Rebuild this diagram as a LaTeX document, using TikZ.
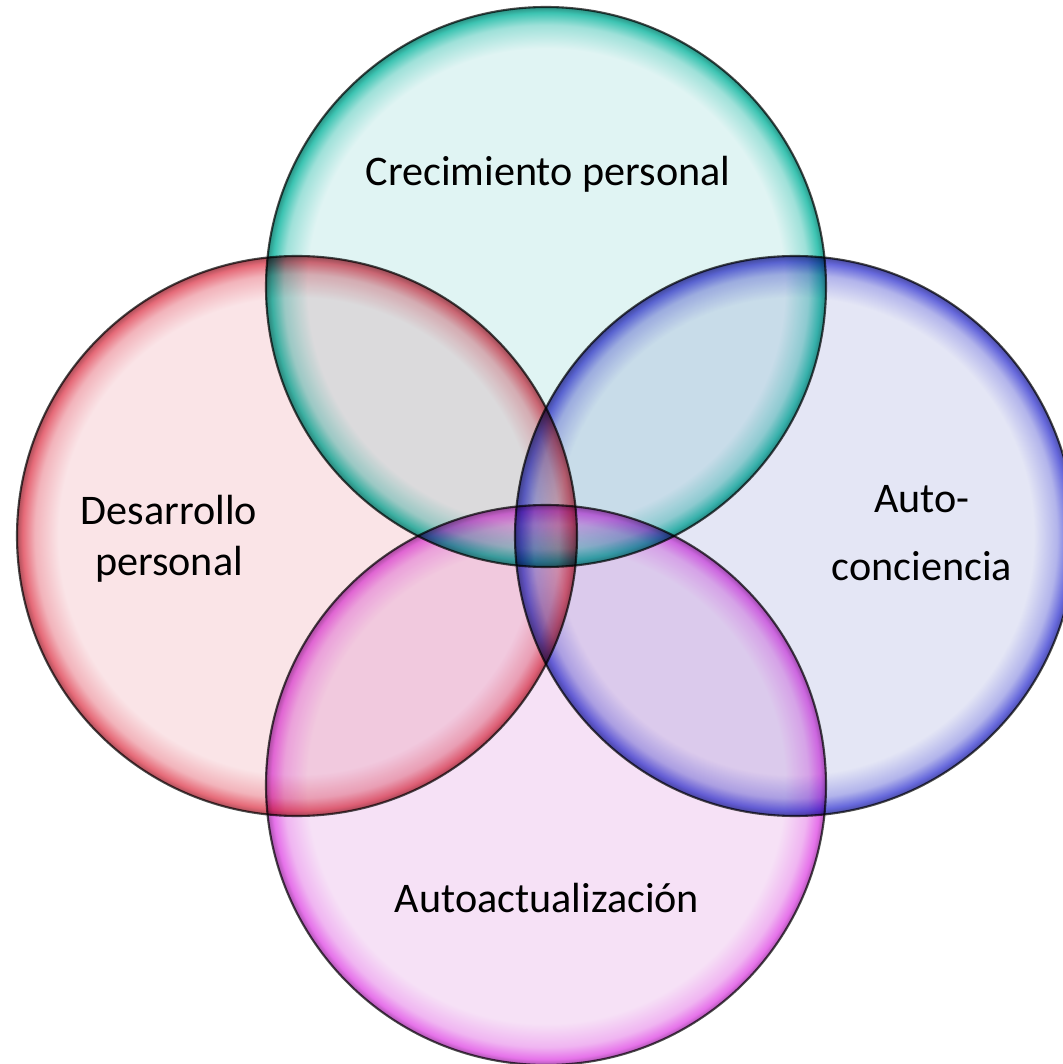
\documentclass[tikz,border=0pt]{standalone}
\usepackage{fontspec}
\setmainfont{Carlito}
\usetikzlibrary{positioning}

\definecolor{tealin}{HTML}{E0F4F3}
\definecolor{tealrim}{HTML}{3CC4B2}
\definecolor{redin}{HTML}{FAE4E7}
\definecolor{redrim}{HTML}{E66A78}
\definecolor{bluein}{HTML}{E4E6F5}
\definecolor{bluerim}{HTML}{6668DC}
\definecolor{pinkin}{HTML}{F6E1F6}
\definecolor{pinkrim}{HTML}{E672EA}

% glassy ring: light inside, coloured rim near the edge
\newcommand\ringshade[3]{%
  \pgfdeclareradialshading{#1}{\pgfpoint{0bp}{0bp}}{%
    color(0bp)=(#2); color(21.3bp)=(#2); color(23.4bp)=(#3!40!#2);
    color(24.5bp)=(#3); color(25bp)=(#3!75!black); color(50bp)=(#3!75!black)}}
\ringshade{ringteal}{tealin}{tealrim}
\ringshade{ringred}{redin}{redrim}
\ringshade{ringblue}{bluein}{bluerim}
\ringshade{ringpink}{pinkin}{pinkrim}

\tikzset{
  bubble/.style={circle,inner sep=0pt,outer sep=0pt,minimum size=5.6cm,
    shading=#1,draw=black!70,line width=0.6pt,blend mode=multiply},
  lbl/.style={font=\fontsize{12}{14.5}\selectfont,text=black,align=center}
}

\begin{document}
\begin{tikzpicture}
    \useasboundingbox (0,0) rectangle (10.63,10.64);
    \coordinate (mid) at (5.46,5.28);
    \node[bubble=ringteal] (grow) at (5.46,7.77) {};
    \node[bubble=ringred] (dev) at (2.97,5.28) {};
    \node[bubble=ringblue] (aware) at (7.95,5.28) {};
    \node[bubble=ringpink] (actual) at (5.46,2.79) {};
    \node[lbl,anchor=base] (growtxt) at (5.48,8.79) {Crecimiento personal};
    \node[lbl] (devtxt) at (1.69,5.25) {Desarrollo\\personal};
    \node[lbl] (awaretxt) at (9.22,5.31) {Auto-\\[5pt]conciencia};
    \node[lbl,anchor=base] (actualtxt) at (5.47,1.52) {Autoactualización};
  \end{tikzpicture}
\end{document}
